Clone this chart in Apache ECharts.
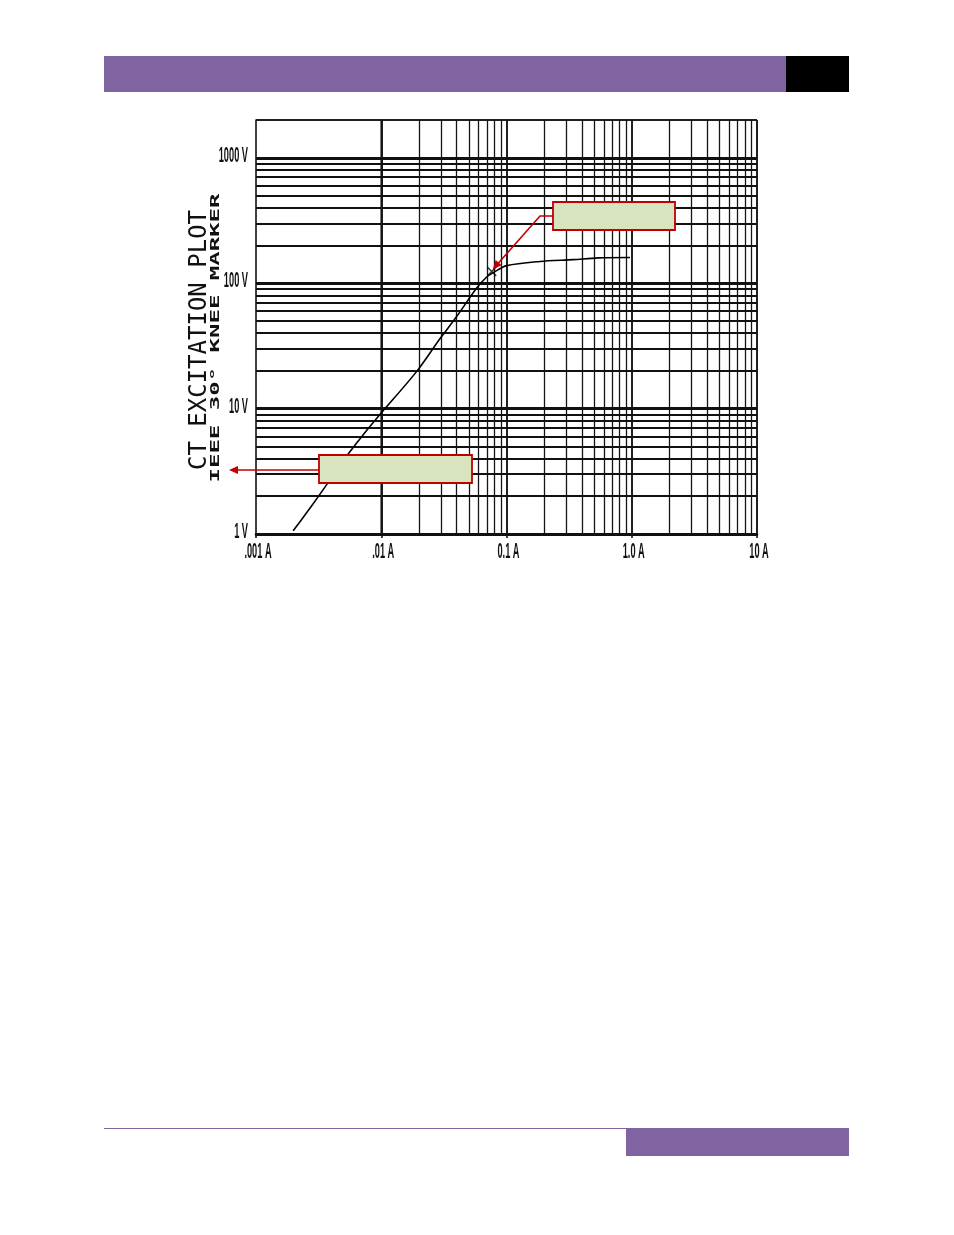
<!DOCTYPE html>
<html>
<head>
<meta charset="utf-8">
<script src="https://cdn.jsdelivr.net/npm/echarts@6/dist/echarts.min.js"></script>
<style>
  html, body { margin: 0; padding: 0; background: #ffffff; }
  #chart { width: 954px; height: 1235px; }
</style>
</head>
<body>
<div id="chart"></div>
<script>
// ---- data ----
var excitationCurrentA = [0.00198, 0.0025, 0.0031, 0.0042, 0.0055, 0.0070, 0.0098, 0.0192, 0.0294, 0.040, 0.0578, 0.0695, 0.0790, 0.1005, 0.185, 0.341, 0.541, 0.968];
var excitationVoltageV = [1.06, 1.45, 1.95, 3.0, 4.4, 6.0, 9.0, 19.8, 36.0, 54.2, 91.4, 112, 122, 138, 149, 154, 159, 160];
var kneeCurrentA = [0.0762];
var kneeVoltageV = [124];

var xTickValues = [0.001, 0.01, 0.1, 1, 10];
var xTickLabels = ['.001 A', '.01 A', '0.1 A', '1.0 A', '10 A'];
var yTickValues = [1, 10, 100, 1000];
var yTickLabels = ['1 V', '10 V', '100 V', '1000 V'];

var xDecades = [0.001, 0.01, 0.1, 1];
var yDecades = [1, 10, 100, 1000];
var gridMultiples = [1, 2, 3, 4, 5, 6, 7, 8, 9];
var xMax = 10;
var yMax = 2000;

var titleText = 'CT EXCITATION PLOT';
var subtitleText = 'IEEE 30\u00B0 KNEE MARKER';

// ---- helpers ----
function gridValues(decades, maxV) {
  var out = [];
  decades.forEach(function (d) {
    gridMultiples.forEach(function (m) {
      var v = d * m;
      if (v <= maxV * 1.0001) out.push(v);
    });
  });
  out.push(maxV);
  return out;
}
function isPow10(v) {
  var l = Math.log10(v);
  return Math.abs(l - Math.round(l)) < 1e-6;
}

var vLines = gridValues(xDecades, xMax).map(function (v) {
  var major = isPow10(v);
  return { xAxis: v, lineStyle: { color: '#151515', width: major ? 1.9 : 1.3, type: 'solid' } };
});
var hLines = gridValues(yDecades, yMax).map(function (v) {
  var major = isPow10(v);
  var border = Math.abs(v - yMax) < 1e-6;
  return { yAxis: v, lineStyle: { color: '#111', width: border ? 1.5 : (major ? 3 : 1.8), type: 'solid' } };
});

var chart = echarts.init(document.getElementById('chart'), null, { renderer: 'canvas' });

var option = {
  backgroundColor: '#ffffff',
  animation: false,
  grid: { left: 256, right: 197, top: 120, bottom: 701, containLabel: false },
  xAxis: {
    type: 'log', logBase: 10, min: xTickValues[0], max: xMax,
    axisLine: { show: true, lineStyle: { color: '#000', width: 2.5 } },
    axisTick: { show: true, length: 4, lineStyle: { color: '#000', width: 1.5 } },
    minorTick: { show: false },
    splitLine: { show: false },
    axisLabel: { show: false }
  },
  yAxis: {
    type: 'log', logBase: 10, min: yTickValues[0], max: yMax,
    axisLine: { show: true, lineStyle: { color: '#000', width: 1.5 } },
    axisTick: { show: false },
    splitLine: { show: false },
    axisLabel: { show: false }
  },
  series: [
    {
      type: 'line',
      name: 'grid',
      data: [],
      silent: true,
      z: 1,
      markLine: {
        silent: true,
        symbol: ['none', 'none'],
        label: { show: false },
        emphasis: { disabled: true },
        animation: false,
        data: vLines.concat(hLines)
      }
    },
    {
      type: 'line',
      name: 'Excitation',
      z: 5,
      smooth: 0.3,
      showSymbol: false,
      lineStyle: { color: '#000', width: 1.6 },
      data: excitationCurrentA.map(function (c, i) { return [c, excitationVoltageV[i]]; })
    },
    {
      type: 'scatter',
      name: 'Knee',
      z: 6,
      symbol: 'path://M0,0L10,10M10,0L0,10',
      symbolSize: 9,
      itemStyle: { color: 'rgba(0,0,0,0)', borderColor: '#000', borderWidth: 1.5 },
      data: kneeCurrentA.map(function (c, i) { return [c, kneeVoltageV[i]]; })
    }
  ]
};
chart.setOption(option);

// ---- tick labels (condensed) placed through the axis scales ----
var tickFont = "bold 22px 'Liberation Sans', Arial, sans-serif";
var tickGraphics = [];
xTickValues.forEach(function (v, i) {
  var px = chart.convertToPixel({ xAxisIndex: 0 }, v);
  var py = chart.convertToPixel({ yAxisIndex: 0 }, yTickValues[0]);
  tickGraphics.push({ type: 'text', x: px + 2, y: py + 18, scaleX: 0.42, z: 30, silent: true,
    style: { text: xTickLabels[i], font: tickFont, fill: '#111', align: 'center', verticalAlign: 'middle' } });
});
yTickValues.forEach(function (v, i) {
  var px = chart.convertToPixel({ xAxisIndex: 0 }, xTickValues[0]);
  var py = chart.convertToPixel({ yAxisIndex: 0 }, v);
  tickGraphics.push({ type: 'text', x: px - 8, y: py - 2, scaleX: 0.42, z: 30, silent: true,
    style: { text: yTickLabels[i], font: tickFont, fill: '#111', align: 'right', verticalAlign: 'middle' } });
});

// ---- decorations / annotations ----
var knee = chart.convertToPixel({ gridIndex: 0 }, [kneeCurrentA[0], kneeVoltageV[0]]);
var red = '#c00000';
var boxFill = '#d7e4bd';

var kx = knee[0] + 1, ky = knee[1] - 2;
var bendX = 540, bendY = 216;
var ang = Math.atan2(ky - bendY, kx - bendX);
var ah = 9, aw = 4;
function arrowHead(tx, ty, a) {
  return [
    [tx, ty],
    [tx - ah * Math.cos(a) + aw * Math.sin(a), ty - ah * Math.sin(a) - aw * Math.cos(a)],
    [tx - ah * Math.cos(a) - aw * Math.sin(a), ty - ah * Math.sin(a) + aw * Math.cos(a)]
  ];
}

chart.setOption({
  graphic: [
    // header
    { type: 'rect', shape: { x: 104, y: 56, width: 682, height: 36 }, style: { fill: '#8064a2' }, silent: true },
    { type: 'rect', shape: { x: 786, y: 56, width: 63, height: 36 }, style: { fill: '#000' }, silent: true },
    // footer
    { type: 'line', shape: { x1: 104, y1: 1128.5, x2: 626, y2: 1128.5 }, style: { stroke: '#8064a2', lineWidth: 1.2 }, silent: true },
    { type: 'rect', shape: { x: 626, y: 1128, width: 223, height: 28 }, style: { fill: '#8064a2' }, silent: true },
    // titles
    { type: 'text', x: 200, y: 340, rotation: Math.PI / 2,
      style: { text: titleText, font: "24px 'DejaVu Sans Mono', monospace", fill: '#111', align: 'center', verticalAlign: 'middle' }, silent: true },
    { type: 'text', x: 216, y: 338, rotation: Math.PI / 2, scaleX: 1.0, scaleY: 0.48,
      style: { text: subtitleText, font: "bold 24px 'DejaVu Sans Mono', monospace", fill: '#111', align: 'center', verticalAlign: 'middle' }, silent: true },
    // knee annotation
    { type: 'polyline', shape: { points: [[553, bendY], [bendX, bendY], [kx - 7 * Math.cos(ang), ky - 7 * Math.sin(ang)]] },
      style: { stroke: red, lineWidth: 1.6, fill: null }, z: 20, silent: true },
    { type: 'polygon', shape: { points: arrowHead(kx, ky, ang) }, style: { fill: red }, z: 20, silent: true },
    { type: 'rect', shape: { x: 553, y: 202, width: 122, height: 28 }, style: { fill: boxFill, stroke: red, lineWidth: 1.8 }, z: 21, silent: true },
    // left annotation
    { type: 'line', shape: { x1: 319, y1: 470, x2: 236, y2: 470 }, style: { stroke: red, lineWidth: 1.6 }, z: 20, silent: true },
    { type: 'polygon', shape: { points: arrowHead(229, 470, Math.PI) }, style: { fill: red }, z: 20, silent: true },
    { type: 'rect', shape: { x: 319, y: 455, width: 153, height: 28 }, style: { fill: boxFill, stroke: red, lineWidth: 1.8 }, z: 21, silent: true }
  ].concat(tickGraphics)
});
</script>
</body>
</html>
